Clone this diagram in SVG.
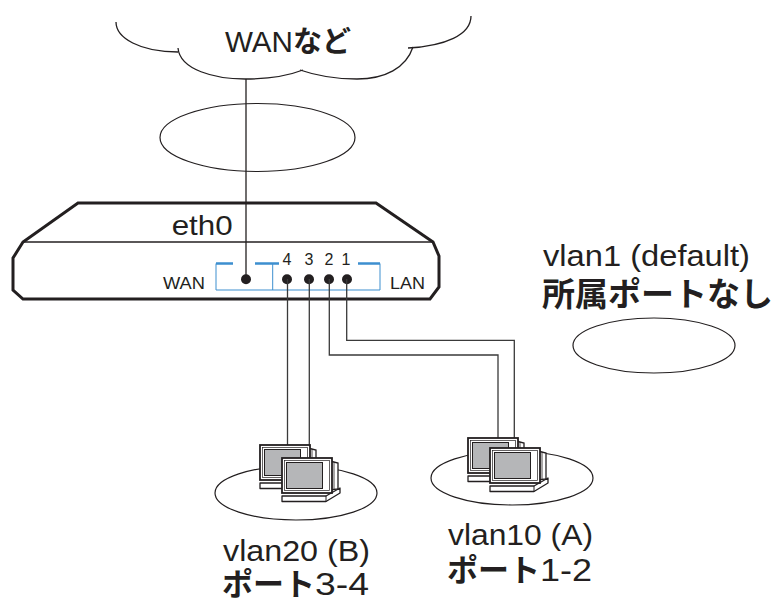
<svg xmlns="http://www.w3.org/2000/svg" xmlns:xlink="http://www.w3.org/1999/xlink" width="776" height="601" viewBox="0 0 776 601">
<style>
.ln{fill:none;stroke:#231f20;stroke-width:1.3}
.ell{fill:none;stroke:#231f20;stroke-width:1.2}
.lat{font-family:"Liberation Sans",Arial,sans-serif;fill:#231f20}
.jp{font-family:"Noto Sans CJK JP","Liberation Sans",sans-serif;font-weight:bold;fill:#231f20}
.blue{fill:none;stroke:#3d8fcf;stroke-width:1}
.bluet{fill:none;stroke:#3d8fcf;stroke-width:2.6}
.cable{fill:none;stroke:#3a3a3a;stroke-width:1.3}
</style>
<defs>
<g id="pc">
<path d="M48,3 L56,5 L56,31 L48,32 Z" fill="#fff" stroke="#231f20" stroke-width="1.3"/>
<line x1="52" y1="4" x2="52" y2="31.5" stroke="#231f20" stroke-width="0.8"/>
<path d="M0,38 L44,38 L58,30 L58,35 L44,43.5 L0,43.5 Z" fill="#fff" stroke="#231f20" stroke-width="1.3" stroke-linejoin="round"/>
<line x1="44" y1="38" x2="44" y2="43.5" stroke="#231f20" stroke-width="1"/>
<rect x="0" y="0" width="50" height="35" fill="#fff" stroke="#231f20" stroke-width="1.8"/>
<rect x="2.5" y="2.5" width="45" height="30" fill="none" stroke="#231f20" stroke-width="0.7"/>
<rect x="4.5" y="4.5" width="36" height="26" fill="#b5b6b8" stroke="#231f20" stroke-width="1"/>
</g>
</defs>

<g id="cloud">
<path class="ln" d="M116,22 C116,38 140,52 178,52"/>
<path class="ln" d="M178,48 C180,70 215,79 245,79 C270,79 290,75 303,70"/>
<path class="ln" d="M300,70 C320,77 338,79 357,79 C385,79 406,68 413,47"/>
<path class="ln" d="M408,48 C445,46 471,35 471,16"/>
<text class="lat" x="225" y="52" font-size="29"><tspan textLength="68" lengthAdjust="spacingAndGlyphs">WAN</tspan><tspan class="jp" font-size="29">など</tspan></text>
</g>

<g id="wan-segment">
<ellipse class="ell" cx="257.5" cy="137.5" rx="97.5" ry="34"/>
</g>

<g id="router">
<path d="M78,203 L376,203 L433,242 L439,256 L439,287 L430,299 L23,299 L13,290 L13,258 L23,242 Z" fill="#fff" stroke="#231f20" stroke-width="3" stroke-linejoin="miter"/>
<line x1="23" y1="242" x2="433" y2="242" stroke="#231f20" stroke-width="1.5"/>
<text class="lat" x="171.7" y="235" font-size="28" textLength="61" lengthAdjust="spacingAndGlyphs">eth0</text>
<text class="lat" x="163" y="289" font-size="17" textLength="42" lengthAdjust="spacingAndGlyphs">WAN</text>
<text class="lat" x="390" y="289" font-size="17" textLength="35" lengthAdjust="spacingAndGlyphs">LAN</text>
<path class="blue" d="M216,263.5 V290 H380 V263.5 M272.7,263.5 V290"/>
<path class="bluet" d="M216,263.5 H233 M255,263.5 H272.7 M272.7,263.5 H279 M358,263.5 H380"/>
<g class="lat" font-size="16" text-anchor="middle">
<text x="287" y="265">4</text>
<text x="309" y="265">3</text>
<text x="329" y="265">2</text>
<text x="346" y="265">1</text>
</g>
<g fill="#231f20">
<circle cx="246" cy="279.3" r="5"/>
<circle cx="287" cy="279.3" r="5"/>
<circle cx="309" cy="279.3" r="5"/>
<circle cx="329" cy="279.3" r="5"/>
<circle cx="347" cy="279.3" r="5"/>
</g>
</g>

<g id="connectors">
<line class="ln" x1="246" y1="79" x2="246" y2="279"/>
<path class="cable" d="M287.5,279 V447"/>
<path class="cable" d="M309.3,279 V447"/>
<path class="cable" d="M329.3,279 V355 H498 V439"/>
<path class="cable" d="M346.7,279 V340.3 H514.3 V439"/>
</g>

<g id="vlan1">
<text class="lat" x="543" y="266" font-size="30" textLength="207" lengthAdjust="spacingAndGlyphs">vlan1 (default)</text>
<text class="jp" x="542" y="306" font-size="33">所属ポートなし</text>
<ellipse class="ell" cx="654" cy="345.5" rx="81" ry="27.5"/>
</g>

<g id="vlan20">
<ellipse class="ell" cx="296" cy="493" rx="81" ry="27"/>
<use xlink:href="#pc" href="#pc" x="260" y="445"/>
<use xlink:href="#pc" href="#pc" x="282" y="458"/>
<text class="lat" x="223" y="561" font-size="29" textLength="147" lengthAdjust="spacingAndGlyphs">vlan20 (B)</text>
<text class="jp" x="222" y="595" font-size="31">ポート<tspan class="lat" font-weight="normal" font-size="31" textLength="54" lengthAdjust="spacingAndGlyphs">3-4</tspan></text>
</g>

<g id="vlan10">
<ellipse class="ell" cx="512" cy="478" rx="81" ry="27"/>
<use xlink:href="#pc" href="#pc" x="468" y="438"/>
<use xlink:href="#pc" href="#pc" x="490" y="448"/>
<text class="lat" x="448" y="545" font-size="29" textLength="145" lengthAdjust="spacingAndGlyphs">vlan10 (A)</text>
<text class="jp" x="447" y="581" font-size="31">ポート<tspan class="lat" font-weight="normal" font-size="31" textLength="52" lengthAdjust="spacingAndGlyphs">1-2</tspan></text>
</g>
</svg>
